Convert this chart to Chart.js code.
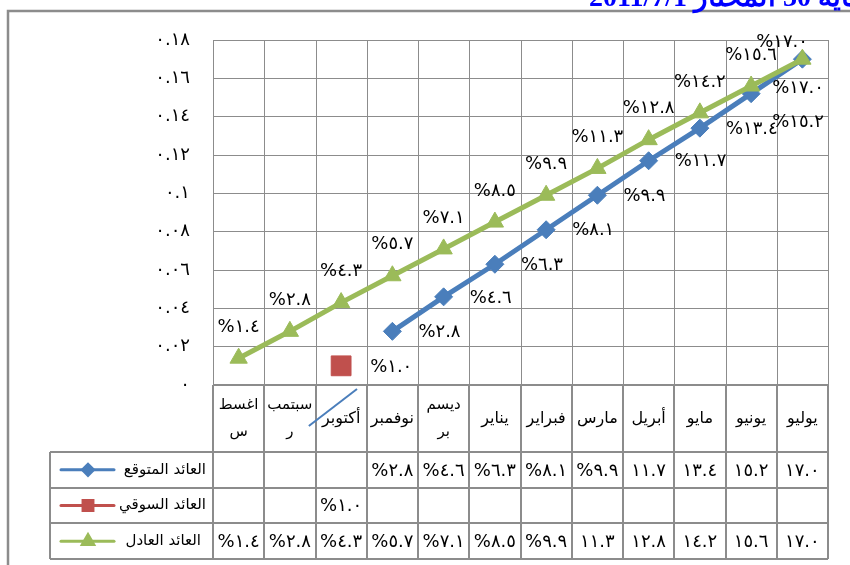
<!DOCTYPE html>
<html><head><meta charset="utf-8">
<script src="https://cdn.jsdelivr.net/npm/chart.js@4.4.0/dist/chart.umd.min.js"></script>
<style>html,body{margin:0;padding:0;background:#fff}#wrap{width:850px;height:565px;position:relative}</style>
</head><body><div id="wrap"><canvas id="c" width="850" height="565"></canvas></div>
<script>
// ---------- data ----------
const categories = [['اغسط','س'],['سبتمب','ر'],'أكتوبر','نوفمبر',['ديسم','بر'],'يناير','فبراير','مارس','أبريل','مايو','يونيو','يوليو'];
const seriesNames = ['العائد المتوقع','العائد السوقي','العائد العادل'];
const expectedReturn = [null,null,null,0.028,0.046,0.063,0.081,0.099,0.117,0.134,0.152,0.170];
const marketReturn   = [null,null,0.010,null,null,null,null,null,null,null,null,null];
const fairReturn     = [0.014,0.028,0.043,0.057,0.071,0.085,0.099,0.113,0.128,0.142,0.156,0.170];
const yTicks = [0,0.02,0.04,0.06,0.08,0.10,0.12,0.14,0.16,0.18];
const titleText = 'لنهاية 30 المختار 2011/7/1';

// ---------- helpers ----------
const AR = '٠١٢٣٤٥٦٧٨٩';
const ar = s => String(s).replace(/\d/g, d => AR[+d]);
const tickText = v => ar(String(parseFloat(v.toFixed(2))));
const pct = v => '%' + ar((v*100).toFixed(1));
const cellText = v => v >= 0.1 ? ar((v*100).toFixed(1)) : pct(v);

const BLUE = '#4A7EBB', RED = '#C0504D', GREEN = '#9BBB59', GRID = '#8c8c8c';
const AFONT = '"DejaVu Sans", sans-serif';
const seriesData = [expectedReturn, marketReturn, fairReturn];
const seriesColors = [BLUE, RED, GREEN];
const seriesMarkers = ['rectRot','rect','triangle'];
const labelPos = ['right','right','above'];

const tablePlugin = {
  id: 'tablePlugin',
  beforeDatasetsDraw(chart){
    const {ctx, chartArea: ca, scales: {x}} = chart;
    const n = categories.length;
    const colW = x.getPixelForValue(1) - x.getPixelForValue(0);
    const x0 = x.getPixelForValue(0) - colW/2;
    const headerBottom = ca.bottom + 67;
    const rowH = 35.7;
    const tableBottom = headerBottom + rowH*3;
    const legendLeft = 50;
    ctx.save();
    // vertical grid lines in plot area
    ctx.strokeStyle = GRID; ctx.lineWidth = 1;
    for (let i = 1; i <= n; i++){
      const xx = Math.round(x0 + i*colW) + 0.5;
      ctx.beginPath(); ctx.moveTo(xx, ca.top); ctx.lineTo(xx, ca.bottom); ctx.stroke();
    }
    // table lines
    ctx.lineWidth = 2;
    for (let i = 0; i <= n; i++){
      const xx = Math.round(x0 + i*colW);
      ctx.beginPath(); ctx.moveTo(xx, ca.bottom); ctx.lineTo(xx, tableBottom); ctx.stroke();
    }
    ctx.beginPath(); ctx.moveTo(legendLeft, headerBottom); ctx.lineTo(legendLeft, tableBottom); ctx.stroke();
    ctx.beginPath(); ctx.moveTo(x0, ca.bottom); ctx.lineTo(x0 + n*colW, ca.bottom); ctx.stroke();
    for (let r = 0; r <= 3; r++){
      const yy = Math.round(headerBottom + r*rowH);
      ctx.beginPath(); ctx.moveTo(legendLeft, yy); ctx.lineTo(x0 + n*colW, yy); ctx.stroke();
    }
    // category labels
    ctx.fillStyle = '#000';
    ctx.textAlign = 'center'; ctx.textBaseline = 'middle';
    ctx.direction = 'rtl';
    const hc = (ca.bottom + headerBottom)/2;
    categories.forEach((c, i) => {
      const cx = x.getPixelForValue(i);
      if (Array.isArray(c)){
        ctx.font = '15px ' + AFONT;
        ctx.fillText(c[0], cx, hc - 13);
        ctx.fillText(c[1], cx, hc + 14);
      } else {
        ctx.font = '16px ' + AFONT;
        ctx.fillText(c, cx, hc);
      }
    });
    // stray line shape over the October label
    ctx.strokeStyle = BLUE; ctx.lineWidth = 2;
    ctx.beginPath();
    ctx.moveTo(x0 + 1.87*colW, ca.bottom + 41);
    ctx.lineTo(x0 + 2.81*colW, ca.bottom + 4);
    ctx.stroke();
    // cells
    seriesData.forEach((arr, s) => {
      const cy = headerBottom + rowH*(s + 0.5);
      ctx.direction = 'ltr';
      ctx.font = '18px ' + AFONT;
      ctx.fillStyle = '#000'; ctx.textAlign = 'center';
      arr.forEach((v, i) => {
        if (v === null) return;
        ctx.fillText(cellText(v), x.getPixelForValue(i), cy + 1);
      });
      // legend key
      ctx.direction = 'rtl'; ctx.textAlign = 'right';
      ctx.font = '15px ' + AFONT;
      ctx.fillText(seriesNames[s], x0 - 7 - (s === 2 ? 5 : 0), cy);
      ctx.direction = 'ltr';
      ctx.strokeStyle = seriesColors[s]; ctx.lineWidth = 3; ctx.lineCap = 'round';
      ctx.beginPath(); ctx.moveTo(61, cy); ctx.lineTo(114, cy); ctx.stroke();
      ctx.lineCap = 'butt';
      ctx.fillStyle = seriesColors[s]; ctx.strokeStyle = seriesColors[s];
      const rr = s === 1 ? 7 : (s === 0 ? 5.5 : 6.5);
      Chart.helpers.drawPoint(ctx, {pointStyle: seriesMarkers[s], radius: rr, borderWidth: 1, rotation: 0}, 88, cy);
    });
    ctx.restore();
  },
  afterDatasetsDraw(chart){
    const {ctx, chartArea: ca} = chart;
    ctx.save();
    ctx.font = '18px ' + AFONT;
    ctx.fillStyle = '#000';
    ctx.textBaseline = 'middle';
    ctx.direction = 'ltr';
    chart.data.datasets.forEach((ds, di) => {
      const meta = chart.getDatasetMeta(di);
      const pos = labelPos[di];
      meta.data.forEach((pt, i) => {
        const v = ds.data[i];
        if (v === null || v === undefined) return;
        const t = pct(v);
        const w = ctx.measureText(t).width;
        let cx, cy;
        if (pos === 'right'){
          cx = pt.x + (di === 1 ? 29 : 26) + w/2; cy = pt.y + 1;
          if (cx + w/2 > ca.right){ cx = ca.right - w/2 - 4; cy = pt.y + 29; }
        } else {
          cx = pt.x; cy = pt.y - 31;
          if (cx + w/2 > ca.right) cx = ca.right - w/2 - 20;
          if (cy < ca.top + 2) cy = ca.top + 2;
        }
        ctx.textAlign = 'center';
        ctx.fillText(t, cx, cy);
      });
    });
    ctx.restore();
  },
  afterDraw(chart){
    const {ctx} = chart;
    ctx.save();
    // frame
    ctx.strokeStyle = '#8c8c8c'; ctx.lineWidth = 2.5;
    ctx.beginPath(); ctx.moveTo(8, 565); ctx.lineTo(8, 11); ctx.lineTo(850, 11); ctx.stroke();
    // cut-off title
    ctx.fillStyle = '#0000ff';
    ctx.font = 'bold 28px "Liberation Serif", "DejaVu Serif", serif';
    ctx.direction = 'rtl'; ctx.textAlign = 'right'; ctx.textBaseline = 'alphabetic';
    ctx.fillText(titleText, 880, 6);
    ctx.restore();
  }
};

new Chart(document.getElementById('c'), {
  type: 'line',
  data: {
    labels: categories,
    datasets: [
      {label: seriesNames[0], data: expectedReturn, borderColor: BLUE, backgroundColor: BLUE,
       pointStyle: 'rectRot', pointRadius: 9, pointBorderWidth: 1, borderWidth: 5, order: 2, spanGaps: false},
      {label: seriesNames[1], data: marketReturn, borderColor: RED, backgroundColor: RED, showLine: false,
       pointStyle: 'rect', pointRadius: 14, pointBorderWidth: 1, order: 1},
      {label: seriesNames[2], data: fairReturn, borderColor: GREEN, backgroundColor: GREEN,
       pointStyle: 'triangle', pointRadius: 10, pointBorderWidth: 1, borderWidth: 5, order: 0}
    ]
  },
  options: {
    responsive: false, animation: false, devicePixelRatio: 1,
    layout: {padding: {top: 40, right: 22, bottom: 180, left: 0}},
    plugins: {legend: {display: false}, tooltip: {enabled: false}, title: {display: false}},
    scales: {
      x: {display: false, offset: true},
      y: {
        min: 0, max: 0.18,
        afterFit(scale){ scale.width = 213; },
        afterBuildTicks(scale){ scale.ticks = yTicks.map(v => ({value: v})); },
        ticks: {padding: 23, color: '#000', font: {size: 18, family: 'DejaVu Sans'}, callback: v => tickText(v)},
        grid: {color: GRID, lineWidth: 1, drawTicks: false},
        border: {display: true, color: GRID, width: 1}
      }
    }
  },
  plugins: [tablePlugin]
});
</script></body></html>
